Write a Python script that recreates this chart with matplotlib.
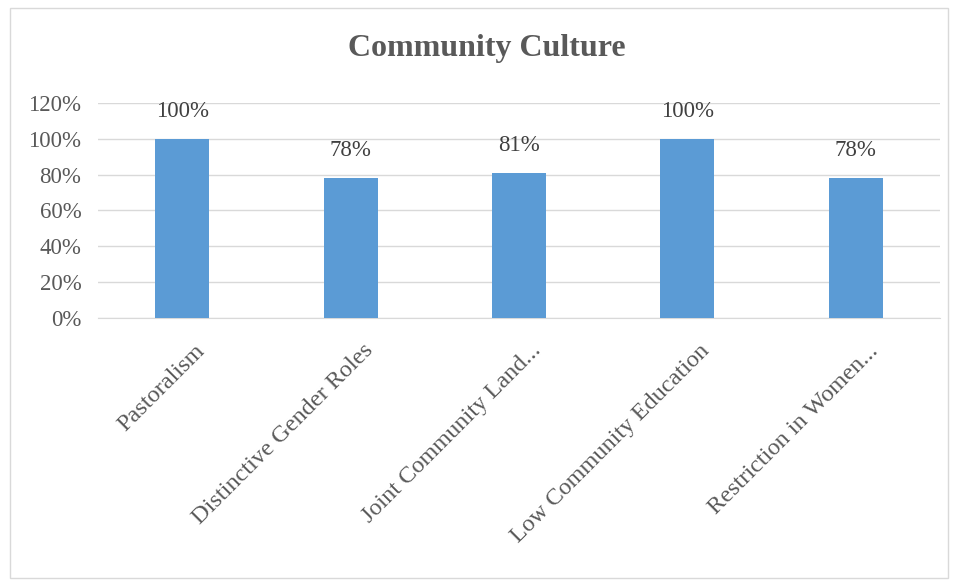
import matplotlib.pyplot as plt
from matplotlib.patches import Rectangle
from matplotlib.ticker import FuncFormatter
from matplotlib.transforms import ScaledTranslation

categories = ["Pastoralism", "Distinctive Gender Roles", "Joint Community Land...",
              "Low Community Education", "Restriction in Women..."]
values = [100, 78, 81, 100, 78]
yticks = [0, 20, 40, 60, 80, 100, 120]

plt.rcParams['font.family'] = ['Liberation Serif', 'DejaVu Serif']

fig = plt.figure(figsize=(9.55, 5.81), dpi=100)
ax = fig.add_axes([0.1026, 0.4527, 0.8817, 0.37])

# light frame around the whole chart
fig.patches.append(Rectangle((10 / 955, 3 / 581), 938 / 955, 570 / 581,
                             transform=fig.transFigure, fill=False,
                             edgecolor='#d9d9d9', linewidth=1))

x = range(len(categories))
bars = ax.bar(x, values, width=0.32, color='#5b9bd5', zorder=3)
for b, v in zip(bars, values):
    ax.annotate(f"{v}%", (b.get_x() + b.get_width() / 2, v), xytext=(0, 20),
                textcoords='offset points', ha='center', va='center',
                fontsize=16.5, color='#404040')

ax.set_xlim(-0.5, len(categories) - 0.5)
ax.set_ylim(0, 120)
ax.set_yticks(yticks)
ax.yaxis.set_major_formatter(FuncFormatter(lambda v, p: f"{v:.0f}%"))
ax.grid(axis='y', color='#d9d9d9', linewidth=1, zorder=0)
for s in ['top', 'right', 'left']:
    ax.spines[s].set_visible(False)
ax.spines['bottom'].set_color('#d9d9d9')
ax.tick_params(axis='both', length=0, labelsize=16.5, labelcolor='#595959')
ax.tick_params(axis='y', pad=12)
ax.set_xticks(list(x))
ax.set_xticklabels(categories, rotation=45, ha='right', rotation_mode='anchor',
                   fontsize=17.5)
ax.tick_params(axis='x', pad=16)
# nudge the slanted labels a little to the right
shift = ScaledTranslation(12 / 100, 0, fig.dpi_scale_trans)
for lbl in ax.get_xticklabels():
    lbl.set_transform(lbl.get_transform() + shift)

fig.text(0.51, 0.916, "Community Culture", ha='center', va='center',
         fontsize=23, fontweight='bold', color='#595959')

fig.savefig("out.png", dpi=100)
